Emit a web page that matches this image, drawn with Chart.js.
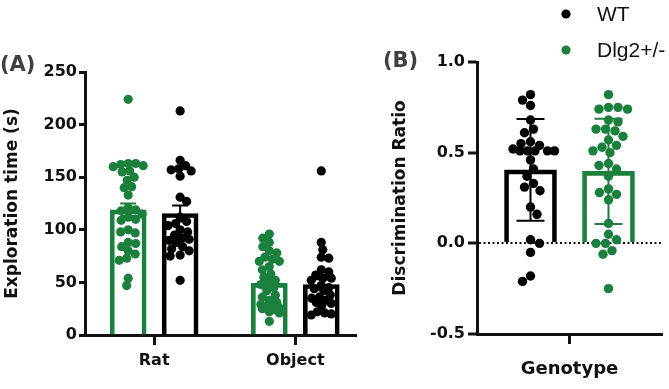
<!DOCTYPE html>
<html>
<head>
<meta charset="utf-8">
<script src="https://cdn.jsdelivr.net/npm/chart.js@4.4.1/dist/chart.umd.min.js"></script>
<style>
  html, body { margin: 0; padding: 0; background: #fff; }
  #wrap { position: relative; width: 669px; height: 389px; overflow: hidden; }
  canvas { position: absolute; top: 0; }
  #panelA { left: 0; }
  #panelB { left: 362px; }
</style>
</head>
<body>
<div id="wrap">
  <canvas id="panelA" width="362" height="389"></canvas>
  <canvas id="panelB" width="307" height="389"></canvas>
</div>
<script>
// ---- data ----
// (A) exploration time (s)
const stimuli = ['Rat', 'Object'];
const dlgRat = [224, 163, 163, 162, 161, 160, 156, 155, 150, 147, 141, 140, 133, 121, 119, 118,
                115, 112, 110, 109, 100, 98, 97, 88, 87, 84, 80, 77, 73, 71, 54, 47];
const wtRat = [213, 166, 161, 158, 157, 156, 151, 131, 127, 112, 108, 106, 104, 100, 98, 95,
               92, 91, 90, 88, 84, 82, 80, 76, 75, 52];
const dlgObject = [96, 92, 88, 84, 80, 78, 74, 72, 70, 70, 65, 62, 58, 55, 52, 50,
                   48, 45, 42, 38, 36, 33, 31, 29, 28, 27, 26, 25, 24, 22, 21, 13];
const wtObject = [156, 88, 81, 74, 73, 62, 60, 57, 54, 54, 52, 47, 45, 44, 42, 38,
                  36, 35, 33, 31, 30, 28, 22, 21, 20, 19];
const dlgMeanA = [119, 49];
const dlgSemA = [6, 4.8];
const wtMeanA = [115.5, 48];
const wtSemA = [7.5, 5];

// (B) discrimination ratio
const genotypeLabel = 'Genotype';
const wtRatio = [0.82, 0.79, 0.76, 0.68, 0.63, 0.61, 0.56, 0.55, 0.54, 0.52, 0.51, 0.51, 0.51, 0.51,
                 0.51, 0.46, 0.41, 0.37, 0.33, 0.31, 0.29, 0.20, 0.16, 0.02, 0.00, -0.05, -0.18, -0.21];
const dlgRatio = [0.82, 0.75, 0.74, 0.75, 0.74, 0.68, 0.67, 0.63, 0.63, 0.62, 0.59, 0.57, 0.54, 0.53,
                  0.51, 0.50, 0.44, 0.43, 0.41, 0.37, 0.30, 0.28, 0.27, 0.24, 0.11, 0.05, 0.02, 0.00,
                  0.00, -0.04, -0.06, -0.25];
const ratioMean = [0.405, 0.397];   // WT, Dlg2+/-
const ratioSd = [0.28, 0.29];

// ---- style ----
const green = '#1b7f3e';
const ink = '#111';
const boldFont = size => ({ family: 'DejaVu Sans', weight: 'bold', size: size });

// beeswarm: x offsets (in axis units) so dots don't pile up
function swarm(values, pxX, pxY, dmin, maxPx) {
  const order = values.map((v, i) => i).sort((a, b) => values[b] - values[a]);
  const placed = [];
  const out = [];
  order.forEach(i => {
    const y = values[i] * pxY;
    let pick = null, fallback = 0, bestGap = -1;
    const flip = placed.length % 2 === 1;
    for (let s = 0; s <= maxPx && pick === null; s += 0.5) {
      const cands = s === 0 ? [0] : (flip ? [-s, s] : [s, -s]);
      for (const dx of cands) {
        let gap = Infinity;
        placed.forEach(p => { gap = Math.min(gap, Math.hypot(p.x - dx, p.y - y)); });
        if (gap >= dmin) { pick = dx; break; }
        if (gap > bestGap) { bestGap = gap; fallback = dx; }
      }
    }
    const dx = pick === null ? fallback : pick;
    placed.push({ x: dx, y: y });
    out[i] = dx / pxX;
  });
  return out;
}

// widths: max sideways spread (px) for each group
function dots(groups, shift, pxX, pxY, dmin, widths) {
  const pts = [];
  groups.forEach((vals, g) => {
    const off = swarm(vals, pxX, pxY, dmin, widths[g]);
    vals.forEach((v, i) => pts.push({ x: g + shift + off[i], y: v }));
  });
  return pts;
}

// error bars drawn with the chart's own scales
const errorBars = {
  id: 'errorBars',
  afterDatasetsDraw(chart, args, opts) {
    const ctx = chart.ctx;
    const yScale = chart.scales.y;
    chart.data.datasets.forEach((ds, di) => {
      if (!ds.errors) return;
      const meta = chart.getDatasetMeta(di);
      meta.data.forEach((bar, i) => {
        const m = ds.data[i].y;
        const top = yScale.getPixelForValue(m + ds.errors[i]);
        const bot = yScale.getPixelForValue(m - ds.errors[i]);
        const h = opts.cap / 2;
        ctx.save();
        ctx.strokeStyle = ds.borderColor;
        ctx.lineWidth = opts.width;
        ctx.beginPath();
        ctx.moveTo(bar.x, top); ctx.lineTo(bar.x, bot);
        ctx.moveTo(bar.x - h, top); ctx.lineTo(bar.x + h, top);
        ctx.moveTo(bar.x - h, bot); ctx.lineTo(bar.x + h, bot);
        ctx.stroke();
        ctx.restore();
      });
    });
  }
};

// panel letters and the dot legend
const annotations = {
  id: 'annotations',
  afterDraw(chart, args, opts) {
    const ctx = chart.ctx;
    ctx.save();
    ctx.textBaseline = 'middle';
    ctx.textAlign = 'left';
    if (opts.letter) {
      ctx.font = 'bold 21px "DejaVu Sans"';
      ctx.fillStyle = '#404040';
      ctx.fillText(opts.letter.text, opts.letter.x, opts.letter.y);
    }
    if (opts.legend) {
      const L = opts.legend;
      const items = chart.data.datasets.filter(d => d.type === 'scatter');
      items.forEach((d, k) => {
        const y = L.y + k * L.gap;
        ctx.fillStyle = d.pointBackgroundColor;
        ctx.beginPath();
        ctx.arc(L.x, y, 4.6, 0, Math.PI * 2);
        ctx.fill();
        ctx.font = '21px "Liberation Sans"';
        ctx.fillStyle = ink;
        ctx.fillText(d.label, L.x + 31, y + 1);
      });
    }
    ctx.restore();
  }
};

const axisY = (title, width, extra) => Object.assign({
  border: { color: ink, width: 3 },
  grid: { drawOnChartArea: false, tickLength: 6, tickWidth: 3, tickColor: ink },
  ticks: { color: ink, font: boldFont(16), padding: 2 },
  title: { display: true, text: title, color: ink, font: boldFont(17), padding: { top: 2, bottom: 0 } },
  afterFit: s => { s.width = width; }
}, extra);

// ---- panel A ----
const pxXA = 271 / 1.92, pxYA = 263 / 250, shiftA = 0.184;
new Chart(document.getElementById('panelA'), {
  type: 'bar',
  data: {
    datasets: [
      { type: 'scatter', label: 'Dlg2+/-', data: dots([dlgRat, dlgObject], -shiftA, pxXA, pxYA, 7.5, [15, 10]),
        pointBackgroundColor: green, pointBorderWidth: 0, pointRadius: 4.6, order: 1 },
      { type: 'scatter', label: 'WT', data: dots([wtRat, wtObject], shiftA, pxXA, pxYA, 7.5, [15, 10]),
        pointBackgroundColor: '#000', pointBorderWidth: 0, pointRadius: 4.6, order: 1 },
      { label: 'Dlg2+/- mean', data: dlgMeanA.map((m, i) => ({ x: i - shiftA, y: m })), errors: dlgSemA,
        borderColor: green, backgroundColor: 'rgba(0,0,0,0)', borderWidth: 4, barThickness: 36, grouped: false, order: 2 },
      { label: 'WT mean', data: wtMeanA.map((m, i) => ({ x: i + shiftA, y: m })), errors: wtSemA,
        borderColor: '#000', backgroundColor: 'rgba(0,0,0,0)', borderWidth: 4, barThickness: 36, grouped: false, order: 2 }
    ]
  },
  options: {
    responsive: false,
    animation: false,
    layout: { padding: { top: 72, right: 6, left: 0, bottom: 0 } },
    plugins: {
      legend: { display: false },
      tooltip: { enabled: false },
      errorBars: { width: 2, cap: 16 },
      annotations: { letter: { text: '(A)', x: 0, y: 66 } }
    },
    scales: {
      x: {
        type: 'linear', min: -0.49, max: 1.43, offset: false,
        afterBuildTicks: s => { s.ticks = stimuli.map((c, i) => ({ value: i })); },
        ticks: { callback: v => stimuli[v], color: ink, font: boldFont(16), padding: 6, maxRotation: 0, autoSkip: false },
        grid: { offset: false, drawOnChartArea: false, tickLength: 10, tickWidth: 3, tickColor: ink },
        border: { color: ink, width: 3 },
        afterFit: s => { s.height = 54; }
      },
      y: axisY('Exploration time (s)', 85, { min: 0, max: 250, ticks: { stepSize: 50, color: ink, font: boldFont(16), padding: 2 } })
    }
  },
  plugins: [errorBars, annotations]
});

// ---- panel B ----
const pxXB = 185 / 2.372, pxYB = 272 / 1.5, shiftB = 0.5;
new Chart(document.getElementById('panelB'), {
  type: 'bar',
  data: {
    datasets: [
      { type: 'scatter', label: 'WT', data: dots([wtRatio], -shiftB, pxXB, pxYB, 9.5, [24]),
        pointBackgroundColor: '#000', pointBorderWidth: 0, pointRadius: 4.7, order: 1 },
      { type: 'scatter', label: 'Dlg2+/-', data: dots([dlgRatio], -shiftB + 1, pxXB, pxYB, 9.5, [24]),
        pointBackgroundColor: green, pointBorderWidth: 0, pointRadius: 4.7, order: 1 },
      { label: 'mean WT', data: [{ x: -shiftB, y: ratioMean[0] }], errors: [ratioSd[0]],
        borderColor: '#000', backgroundColor: 'rgba(0,0,0,0)', borderWidth: 4, barThickness: 52, grouped: false, order: 2 },
      { label: 'mean Dlg2', data: [{ x: shiftB, y: ratioMean[1] }], errors: [ratioSd[1]],
        borderColor: green, backgroundColor: 'rgba(0,0,0,0)', borderWidth: 4, barThickness: 52, grouped: false, order: 2 }
    ]
  },
  options: {
    responsive: false,
    animation: false,
    layout: { padding: { top: 62, right: 7, left: 26, bottom: 0 } },
    plugins: {
      legend: { display: false },
      tooltip: { enabled: false },
      errorBars: { width: 2, cap: 28 },
      annotations: { letter: { text: '(B)', x: 21, y: 62 }, legend: { x: 204, y: 14, gap: 36 } }
    },
    scales: {
      x: {
        type: 'linear', min: -1.186, max: 1.186, offset: false,
        afterBuildTicks: s => { s.ticks = [{ value: 0 }]; },
        ticks: { callback: () => genotypeLabel, color: ink, font: boldFont(18), padding: 15, maxRotation: 0 },
        grid: { offset: false, drawOnChartArea: false, tickLength: 10, tickWidth: 3, tickColor: ink },
        border: { color: ink, width: 3 },
        afterFit: s => { s.height = 55; }
      },
      y: axisY('Discrimination Ratio', 89, {
        min: -0.5, max: 1.0,
        ticks: { stepSize: 0.5, callback: v => v.toFixed(1), color: ink, font: boldFont(16), padding: 3 },
        grid: {
          drawOnChartArea: true, lineWidth: 2, tickLength: 9, tickWidth: 3, tickColor: ink,
          color: c => (c.tick && c.tick.value === 0 ? ink : 'rgba(0,0,0,0)')
        },
        border: { color: ink, width: 3, dash: [2, 2.5] }
      })
    }
  },
  plugins: [errorBars, annotations]
});
</script>
</body>
</html>
